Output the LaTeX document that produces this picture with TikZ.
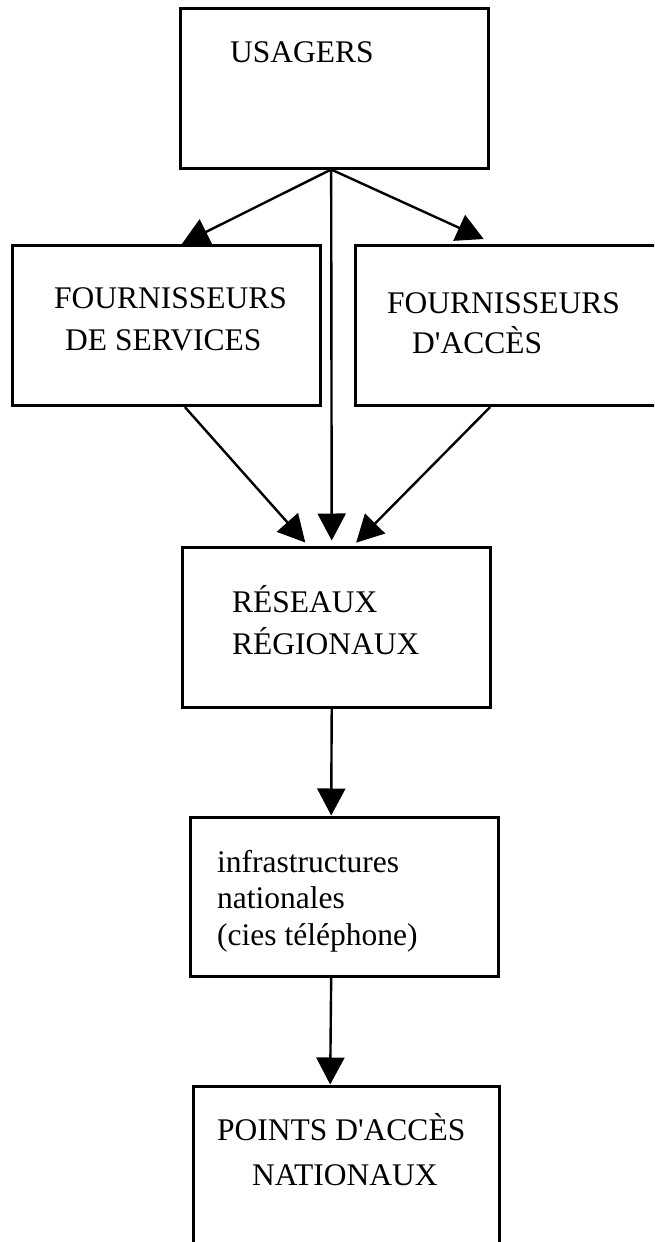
\documentclass[tikz,border=0pt]{standalone}
\usepackage{fontspec}
\setmainfont{Liberation Serif}
\usetikzlibrary{arrows.meta}

\begin{document}
\begin{tikzpicture}[x=1pt,y=-1pt,>={Triangle[length=27pt,width=28pt]},
    boite/.style={draw,rectangle,line width=3pt,minimum width=308pt,minimum height=160pt,inner sep=0pt},
    texte/.style={anchor=base west,inner sep=0pt,align=left,font=\fontsize{31.5}{36}\selectfont}]
    \useasboundingbox (0,0) rectangle (654,1242);
    \clip (0,0) rectangle (654,1242);

    \node[boite] (usagers) at (334,88) {};
    \node[boite] (fs) at (166,325.5) {};
    \node[boite] (fa) at (509,325.5) {};
    \node[boite] (rr) at (336,627) {};
    \node[boite,minimum height=159pt] (infra) at (344,896.5) {};
    \node[boite,minimum width=306pt] (points) at (346,1166) {};

    \node[texte] (usagers-t) at (230,62) {USAGERS};
    \node[texte] (fs-t) at (54,350) {FOURNISSEURS\\[6pt]\hspace*{11pt}DE SERVICES};
    \node[texte] (fa-t) at (387,353) {FOURNISSEURS\\[4pt]\hspace*{25pt}D\textquotesingle ACCÈS};
    \node[texte] (rr-t) at (232,654) {RÉSEAUX\\[6pt]RÉGIONAUX};
    \node[texte] (infra-t) at (217,945) {infrastructures\\nationales\\[1pt](cies téléphone)};
    \node[texte] (points-t) at (217,1185) {POINTS D\textquotesingle ACCÈS\\[9pt]\hspace*{35pt}NATIONAUX};

    \path[->,line width=2.4pt]
        (usagers.-92) edge (fs.79)
        (usagers.-92) edge[shorten >=12pt] (fa.100)
        (usagers.-92) edge[shorten >=5pt] (rr.93)
        (fs.-77) edge[shorten >=4pt] (rr.109)
        (fa.257) edge[shorten >=4pt] (rr.78)
        (rr.-93) edge (infra.99)
        (infra.-99) edge (points.101)
    ;
\end{tikzpicture}
\end{document}
